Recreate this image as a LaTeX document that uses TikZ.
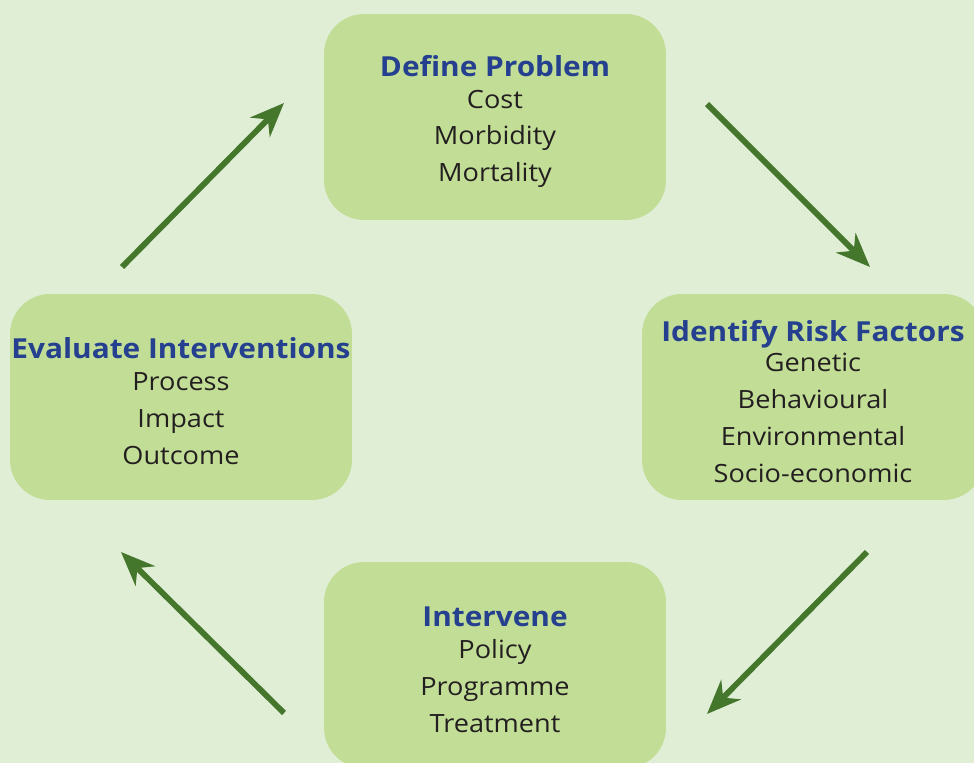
\documentclass[tikz,border=0pt]{standalone}
\usepackage{fontspec}
\setmainfont{Open Sans}[FakeStretch=1.08]
\usetikzlibrary{arrows.meta}

\definecolor{bggreen}{HTML}{E0EED6}
\definecolor{boxgreen}{HTML}{C2DE96}
\definecolor{arrowgreen}{HTML}{44762C}
\definecolor{titleblue}{HTML}{25408F}
\definecolor{bodyblack}{HTML}{231F20}

\tikzset{
  stage/.style={fill=boxgreen, rounded corners=0.8cm, minimum width=6.84cm, minimum height=4.12cm,
    align=center, inner sep=0pt, text=bodyblack, font=\fontsize{14.3}{21}\selectfont},
  cyclearrow/.style={draw=arrowgreen, line width=0.115cm, -{Stealth[length=0.68cm,width=0.55cm]}}
}
\newcommand{\stagetitle}[1]{{\rule{0pt}{17pt}\color{titleblue}\fontsize{15.7}{19}\selectfont\bfseries #1}}

\begin{document}
\begin{tikzpicture}[x=0.02cm, y=-0.02cm]
% Background, sized as the page
\fill[bggreen] (0,0) rectangle (974,763);
\clip (0,0) rectangle (974,763);

% The four stages of the cycle
\node[stage] (define) at (495,117) {\stagetitle{Define Problem}\\[-2.8pt]Cost\\Morbidity\\Mortality};
\node[stage] (risk) at (813,397) {\stagetitle{Identify Risk Factors}\\[-3.5pt]Genetic\\Behavioural\\Environmental\\Socio-economic};
\node[stage] (intervene) at (495,665) {\stagetitle{Intervene}\\[-2.8pt]Policy\\Programme\\Treatment};
\node[stage] (evaluate) at (181,397) {\stagetitle{Evaluate Interventions}\\[-2.8pt]Process\\Impact\\Outcome};

% Arrow end points
\coordinate (defineout) at (707,104);
\coordinate (riskin) at (870,267);
\coordinate (riskout) at (867,552);
\coordinate (intervenein) at (707,714);
\coordinate (interveneout) at (284,713);
\coordinate (evaluatein) at (121,552);
\coordinate (evaluateout) at (122,267);
\coordinate (definein) at (284,103);

% Arrows
\draw[cyclearrow] (defineout) -- (riskin);
\draw[cyclearrow] (riskout) -- (intervenein);
\draw[cyclearrow] (interveneout) -- (evaluatein);
\draw[cyclearrow] (evaluateout) -- (definein);
\end{tikzpicture}
\end{document}
